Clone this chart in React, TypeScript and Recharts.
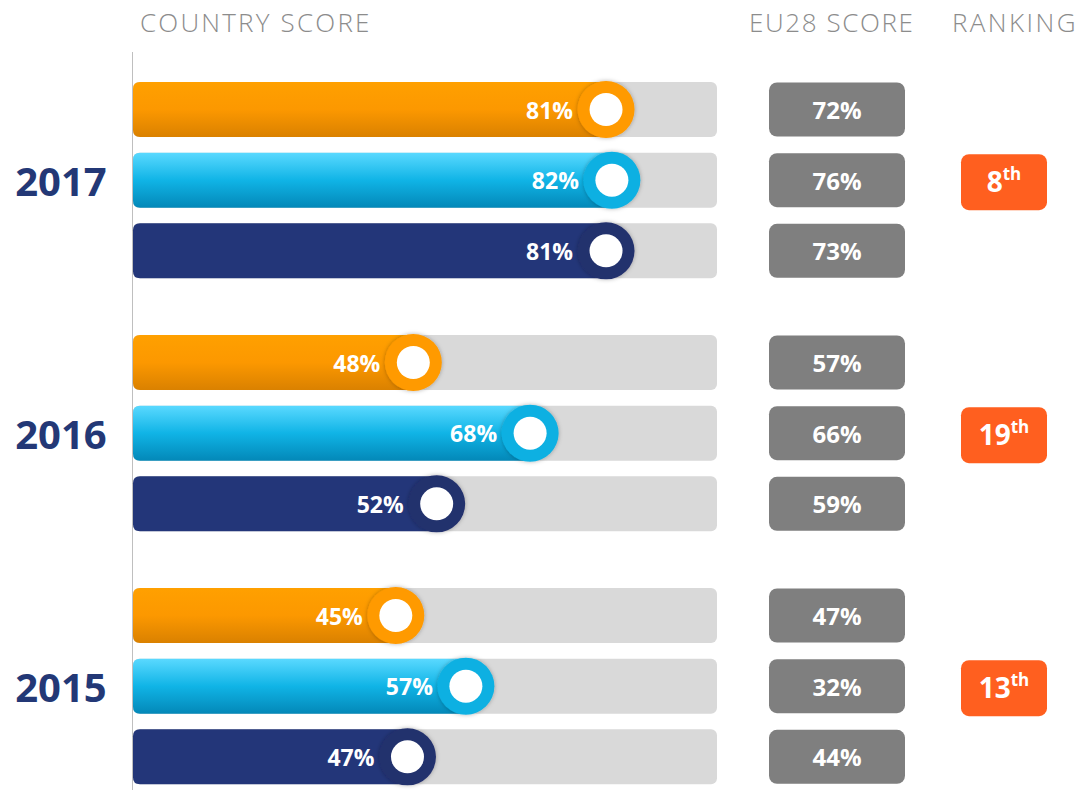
import React from 'react';
import { BarChart, Bar, XAxis, YAxis, LabelList } from 'recharts';

const years = ['2017', '2016', '2015'];
const seriesNames = ['Indicator A', 'Indicator B', 'Indicator C'];
const countryScores = [
  [81, 82, 81],
  [48, 68, 52],
  [45, 57, 47],
];
const eu28Scores = [
  [72, 76, 73],
  [57, 66, 59],
  [47, 32, 44],
];
const rankings = ['8', '19', '13'];

const palette = [
  { id: 'orange', top: '#FFA000', mid: '#FC9800', bottom: '#DA8100', ring: '#FF9A00' },
  { id: 'cyan', top: '#5AD9FF', mid: '#10B4E6', bottom: '#0388B8', ring: '#0CB0E2' },
  { id: 'navy', top: '#233679', mid: '#233679', bottom: '#233679', ring: '#24306D' },
];

const groupTops = [74, 327, 580];
const FONT = "'Open Sans', 'DejaVu Sans', sans-serif";

const ScoreBar = (props: any) => {
  const { x, y, width, height, index, groupIndex } = props;
  const c = palette[index];
  const r = 7;
  const cx = x + width;
  const cy = y + height / 2;
  return (
    <g>
      <path
        d={`M${x + r},${y} H${cx} V${y + height} H${x + r} Q${x},${y + height} ${x},${y + height - r} V${y + r} Q${x},${y} ${x + r},${y} Z`}
        fill={`url(#grad-${groupIndex}-${c.id})`}
      />
      <circle cx={cx} cy={cy} r={height / 2 + 1} fill={c.ring} filter={`url(#shadow-${groupIndex})`} />
      <circle cx={cx} cy={cy} r={16.5} fill="#fff" />
    </g>
  );
};

const ScoreLabel = (props: any) => {
  const vb = props.viewBox || props;
  return (
    <text
      x={vb.x + vb.width - 33}
      y={vb.y + vb.height / 2}
      textAnchor="end"
      dominantBaseline="central"
      fill="#fff"
      fontSize={23}
      fontWeight={700}
      fontFamily={FONT}
    >
      {props.value}%
    </text>
  );
};

const EuLabel = (props: any) => {
  const vb = props.viewBox || props;
  const cy = vb.y + vb.height / 2;
  return (
    <g>
      <rect x={769} y={cy - 27} width={136} height={54} rx={8} fill="#7F7F7F" />
      <text
        x={837}
        y={cy}
        textAnchor="middle"
        dominantBaseline="central"
        fill="#fff"
        fontSize={24}
        fontWeight={700}
        fontFamily={FONT}
      >
        {props.value}%
      </text>
    </g>
  );
};

const RankLabel = (props: any) => {
  if (!props.value) return null;
  const vb = props.viewBox || props;
  const cy = vb.y + vb.height / 2 + 2;
  return (
    <g>
      <rect x={961} y={cy - 28} width={86} height={56} rx={8} fill="#FF5F1F" />
      <text
        x={1004}
        y={cy + 10}
        textAnchor="middle"
        fill="#fff"
        fontSize={28}
        fontWeight={700}
        fontFamily={FONT}
      >
        {props.value}
        <tspan fontSize={17} dy={-12}>th</tspan>
      </text>
    </g>
  );
};

const YearGroup = ({ groupIndex }: { groupIndex: number }) => {
  const data = seriesNames.map((name, i) => ({
    series: name,
    score: countryScores[groupIndex][i],
    eu: eu28Scores[groupIndex][i],
    rank: i === 1 ? rankings[groupIndex] : null,
  }));

  const YearTick = (props: any) => {
    if (props.index !== 1) return <g />;
    return (
      <text
        x={61}
        y={props.y}
        textAnchor="middle"
        dominantBaseline="central"
        fill="#233876"
        fontSize={40}
        fontWeight={700}
        fontFamily={FONT}
      >
        {years[groupIndex]}
      </text>
    );
  };

  return (
    <div style={{ position: 'absolute', left: 0, top: groupTops[groupIndex] }}>
      <BarChart
        width={1082}
        height={212}
        data={data}
        layout="vertical"
        margin={{ top: 0, right: 365, bottom: 0, left: 0 }}
        barSize={55}
      >
        <defs>
          {palette.map((c) => (
            <linearGradient key={c.id} id={`grad-${groupIndex}-${c.id}`} x1="0" y1="0" x2="0" y2="1">
              <stop offset="0%" stopColor={c.top} />
              <stop offset="50%" stopColor={c.mid} />
              <stop offset="100%" stopColor={c.bottom} />
            </linearGradient>
          ))}
          <filter id={`shadow-${groupIndex}`} x="-30%" y="-30%" width="160%" height="160%">
            <feDropShadow dx="0" dy="0" stdDeviation="2" floodColor="#000" floodOpacity="0.3" />
          </filter>
        </defs>
        <XAxis type="number" domain={[0, 100]} hide />
        <YAxis
          type="category"
          dataKey="series"
          width={133}
          axisLine={false}
          tickLine={false}
          tick={YearTick}
        />
        <Bar
          dataKey="score"
          isAnimationActive={false}
          background={{ fill: '#D9D9D9', radius: 6 }}
          shape={(p: any) => <ScoreBar {...p} groupIndex={groupIndex} />}
        >
          <LabelList dataKey="score" content={ScoreLabel} />
          <LabelList dataKey="eu" content={EuLabel} />
          <LabelList dataKey="rank" content={RankLabel} />
        </Bar>
      </BarChart>
    </div>
  );
};

const headerStyle: React.CSSProperties = {
  position: 'absolute',
  top: 4,
  fontFamily: FONT,
  fontWeight: 300,
  fontSize: 26,
  color: '#8C8C8C',
  whiteSpace: 'nowrap',
};

export default function App() {
  return (
    <div style={{ position: 'absolute', left: 0, top: 0, width: 1082, height: 790, background: '#fff', overflow: 'hidden' }}>
      <div style={{ ...headerStyle, left: 140, letterSpacing: 2.2 }}>COUNTRY SCORE</div>
      <div style={{ ...headerStyle, left: 749, letterSpacing: 1.6 }}>EU28 SCORE</div>
      <div style={{ ...headerStyle, left: 952, letterSpacing: 2.4 }}>RANKING</div>
      <div style={{ position: 'absolute', left: 132, top: 52, width: 1, height: 738, background: '#BFBFBF' }} />
      {years.map((y, g) => (
        <YearGroup key={y} groupIndex={g} />
      ))}
    </div>
  );
}
